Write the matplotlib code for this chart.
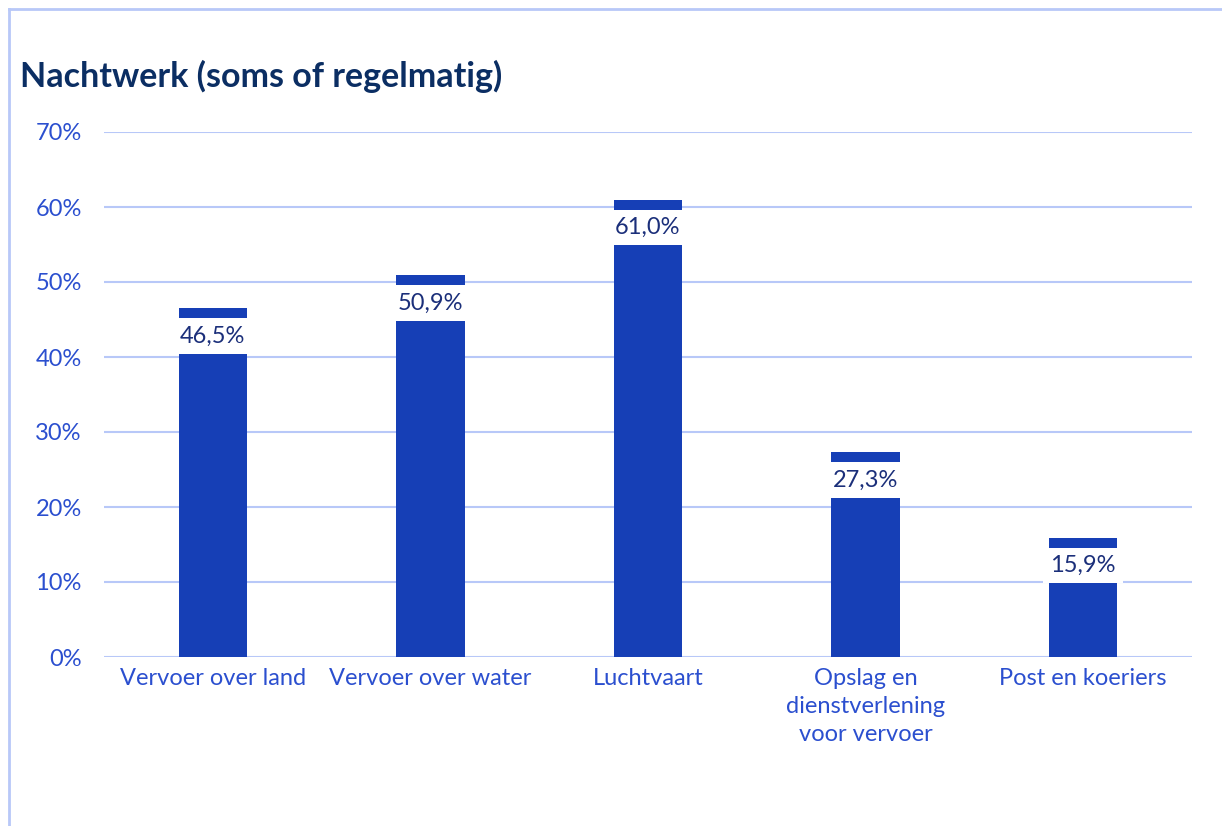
"""Staafdiagram nachtwerk per vervoerssector."""

import matplotlib
matplotlib.use('Agg')
import matplotlib.pyplot as plt
from matplotlib.lines import Line2D

categories = ["Vervoer over land", "Vervoer over water", "Luchtvaart",
              "Opslag en\ndienstverlening\nvoor vervoer", "Post en koeriers"]
values = [46.5, 50.9, 61.0, 27.3, 15.9]
yticks = [0, 10, 20, 30, 40, 50, 60, 70]

BAR = "#163FB6"
NAVY = "#0B2E63"
TICK = "#2B4FCF"
LABEL = "#1B2F7A"
GRID = "#B8C8F8"


def main():
    plt.rcParams['font.family'] = ['Lato', 'DejaVu Sans']

    fig = plt.figure(figsize=(12.22, 8.26), dpi=100)
    ax = fig.add_axes([104 / 1222, 1 - 657 / 826, 1088 / 1222, 525 / 826])

    x = range(len(categories))
    ax.bar(x, values, width=0.315, color=BAR, zorder=2)

    for i, v in enumerate(values):
        ax.annotate(f"{v:.1f}".replace(".", ",") + "%", (i, v),
                    xytext=(0, -20), textcoords="offset points",
                    ha="center", va="center", fontsize=17, color=LABEL, zorder=4,
                    bbox=dict(boxstyle="square,pad=0.3", fc="white", ec="none"))

    ax.set_xlim(-0.5, len(categories) - 0.5)
    ax.set_ylim(0, 70)
    ax.set_yticks(yticks)
    ax.set_yticklabels([f"{t}%" for t in yticks])
    ax.set_xticks(list(x))
    ax.set_xticklabels(categories, linespacing=1.4)
    ax.tick_params(axis="both", length=0, colors=TICK, labelsize=17)
    ax.tick_params(axis="y", pad=16)
    ax.tick_params(axis="x", pad=8)
    ax.grid(axis="y", color=GRID, linewidth=1.5, zorder=1)
    for s in ax.spines.values():
        s.set_visible(False)

    # frame lines top and left
    fig.add_artist(Line2D([9 / 1222, 1], [1 - 9 / 826] * 2, color=GRID, lw=2,
                          transform=fig.transFigure))
    fig.add_artist(Line2D([9 / 1222] * 2, [0, 1 - 9 / 826], color=GRID, lw=2,
                          transform=fig.transFigure))

    fig.text(20 / 1222, 1 - 87 / 826, "Nachtwerk (soms of regelmatig)",
             fontsize=24.5, fontweight="bold", color=NAVY, ha="left", va="baseline")

    plt.savefig("out.png", dpi=100)
    plt.close()


if __name__ == "__main__":
    main()
